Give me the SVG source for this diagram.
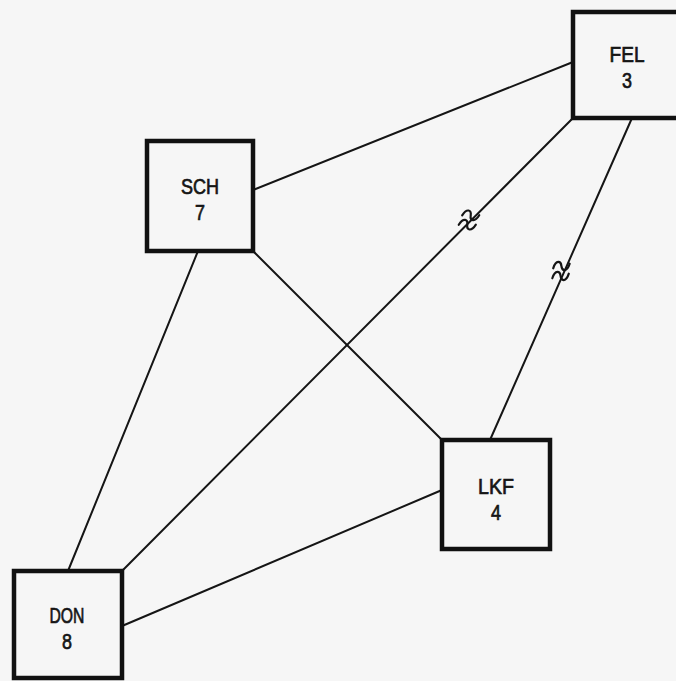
<svg xmlns="http://www.w3.org/2000/svg" width="676" height="681" viewBox="0 0 676 681">
<style>
.box{fill:#f6f6f6;stroke:#111;stroke-width:4.5}
.edge{stroke:#151515;stroke-width:2;fill:none;stroke-linecap:round}
.sq{stroke:#151515;stroke-width:2.2;fill:none;stroke-linecap:round}
text{font-family:"Liberation Sans","DejaVu Sans",sans-serif;font-size:22px;fill:#151515;stroke:#151515;stroke-width:0.7;text-anchor:middle}
</style>
<defs>
<path id="tilde" d="M-8,3 C-6,-6 -1,-5 0,0 C1,5 6,6 8,-3"/>
</defs>
<rect width="676" height="681" fill="#f6f6f6"/>
<g id="connectors">
<line class="edge" x1="253" y1="190" x2="573" y2="62"/>
<line class="edge" x1="573" y1="118" x2="122" y2="571"/>
<line class="edge" x1="632" y1="118" x2="490" y2="440"/>
<line class="edge" x1="253" y1="251" x2="442" y2="440"/>
<line class="edge" x1="198" y1="251" x2="68" y2="571"/>
<line class="edge" x1="442" y1="490" x2="122" y2="626"/>
<g id="break1" transform="translate(469,220) rotate(20)">
<use href="#tilde" class="sq" y="-5"/>
<use href="#tilde" class="sq" y="5"/>
</g>
<g id="break2" transform="translate(561,271) rotate(5)">
<use href="#tilde" class="sq" y="-5"/>
<use href="#tilde" class="sq" y="5"/>
</g>
</g>
<g id="FEL">
<rect class="box" x="573" y="12" width="110" height="106"/>
<text x="627" y="62" textLength="35" lengthAdjust="spacingAndGlyphs">FEL</text>
<text x="627" y="88" textLength="10" lengthAdjust="spacingAndGlyphs">3</text>
</g>
<g id="SCH">
<rect class="box" x="147" y="141" width="106" height="110"/>
<text x="200" y="194" textLength="38" lengthAdjust="spacingAndGlyphs">SCH</text>
<text x="200" y="220" textLength="10" lengthAdjust="spacingAndGlyphs">7</text>
</g>
<g id="LKF">
<rect class="box" x="442" y="440" width="108" height="109"/>
<text x="496" y="494" textLength="36" lengthAdjust="spacingAndGlyphs">LKF</text>
<text x="496" y="520" textLength="10" lengthAdjust="spacingAndGlyphs">4</text>
</g>
<g id="DON">
<rect class="box" x="14" y="571" width="108" height="107"/>
<text x="67" y="623" textLength="35" lengthAdjust="spacingAndGlyphs">DON</text>
<text x="67" y="649" textLength="10" lengthAdjust="spacingAndGlyphs">8</text>
</g>
</svg>
